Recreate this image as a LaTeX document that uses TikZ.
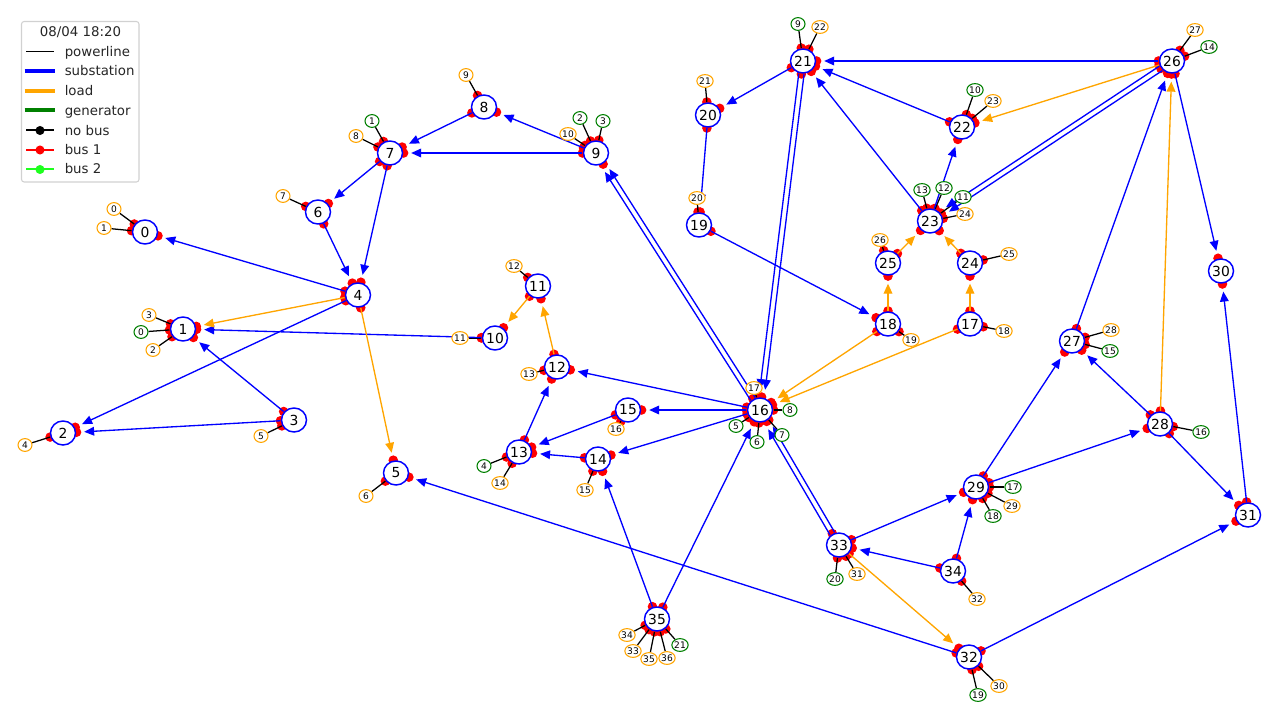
\documentclass[tikz,border=0pt]{standalone}
\usepackage{fontspec}
\setmainfont{DejaVu Sans}
\usetikzlibrary{arrows.meta,calc,shapes.geometric}
\pgfdeclarelayer{dots}\pgfdeclarelayer{edges}
\pgfsetlayers{dots,edges,main}
\definecolor{lblue}{RGB}{0,0,255}
\definecolor{lorange}{RGB}{255,165,0}
\definecolor{lgreen}{RGB}{0,128,0}
\definecolor{lbright}{RGB}{30,255,30}
\tikzset{
  subst/.style={ellipse,draw=lblue,fill=white,line width=1.1pt,minimum width=18.75pt,minimum height=18pt,inner sep=0pt,outer sep=0.8pt,font=\fontsize{10.4}{12}\selectfont},
  elemnode/.style={ellipse,fill=white,line width=0.8pt,minimum width=10.5pt,minimum height=9.6pt,inner sep=0pt,font=\fontsize{6.8}{8}\selectfont},
  loadn/.style={elemnode,draw=lorange},
  genn/.style={elemnode,draw=lgreen},
  flow/.style={line width=1pt,shorten >=5.7pt,-{Triangle[length=7.5pt,width=6.5pt]}},
  elemline/.style={black,line width=0.95pt},
  legtext/.style={anchor=base west,inner sep=0pt,font=\fontsize{10}{12}\selectfont,text=black!85},
}
\newcommand{\busdot}[1]{\fill[red] (#1) circle (3.6pt);}
\newcommand{\sta}[3]{\node[subst] (s#1) at (#2,#3) {#1};}
\newcommand{\elem}[5]{% kind, label, x, y, substation
  \node[#1n] (#1#2) at (#3,#4) {#2};
  \begin{pgfonlayer}{edges}\draw[elemline] (s#5) -- (#1#2) coordinate[pos=0] (tmpe);\end{pgfonlayer}
  \begin{pgfonlayer}{dots}\busdot{tmpe}\end{pgfonlayer}}
\newcommand{\lnk}[3]{% colour, from, to
  \begin{pgfonlayer}{edges}\draw[flow,#1] (s#2) -- (s#3) coordinate[pos=0] (tmpa) coordinate[pos=1] (tmpb);\end{pgfonlayer}
  \begin{pgfonlayer}{dots}\busdot{tmpa}\busdot{tmpb}\end{pgfonlayer}}
\newcommand{\dlnk}[3]{% double line
  \path (s#2) -- (s#3) coordinate[pos=0] (tmpa) coordinate[pos=1] (tmpb);
  \begin{pgfonlayer}{edges}
  \draw[flow,#1] ($(tmpa)!2pt!90:(tmpb)$) -- ($(tmpb)!2pt!-90:(tmpa)$);
  \draw[flow,#1] ($(tmpa)!2pt!-90:(tmpb)$) -- ($(tmpb)!2pt!90:(tmpa)$);
  \end{pgfonlayer}
  \begin{pgfonlayer}{dots}\busdot{tmpa}\busdot{tmpb}\end{pgfonlayer}}
\newcommand{\bluelnk}[2]{\lnk{lblue}{#1}{#2}}
\newcommand{\orangelnk}[2]{\lnk{lorange}{#1}{#2}}
\begin{document}
\begin{tikzpicture}[x=0.75pt,y=-0.75pt]
\useasboundingbox (0,0) rectangle (1280,720);
% substations
\foreach \i/\x/\y in {0/145/232,1/183/329,2/63/433,3/294/420,4/358/295,5/396/473,6/318/212,7/390/153,8/484/107,9/596/153,10/495/338,11/538/286,12/557/367,13/519/452,14/598/459,15/628/410,16/760/410,17/970/324,18/888/324,19/699/225,20/708/115,21/803/61,22/962/127,23/930/221,24/970/263,25/888/263,26/1172/61,27/1072/341,28/1160/424,29/976/487,30/1221/271,31/1248/515,32/969/657,33/839/545,34/953/571,35/657/619}
  {\sta{\i}{\x}{\y}}
% loads
\elem{load}{0}{114}{209}{0}\elem{load}{1}{104}{228}{0}\elem{load}{2}{153}{350}{1}\elem{load}{3}{149}{315}{1}
\elem{load}{4}{25}{445}{2}\elem{load}{5}{261}{436}{3}\elem{load}{6}{366}{496}{5}\elem{load}{7}{283}{196}{6}
\elem{load}{8}{356}{136}{7}\elem{load}{9}{466}{75}{8}\elem{load}{10}{568}{134}{9}\elem{load}{11}{460}{338}{10}
\elem{load}{12}{514}{266}{11}\elem{load}{13}{529}{374}{12}\elem{load}{14}{500}{483}{13}\elem{load}{15}{585}{490}{14}
\elem{load}{16}{616}{429}{15}\elem{load}{17}{754}{388}{16}\elem{load}{18}{1004}{331}{17}\elem{load}{19}{911}{340}{18}
\elem{load}{20}{697}{198}{19}\elem{load}{21}{705}{81}{20}\elem{load}{22}{820}{27}{21}\elem{load}{23}{993}{101}{22}
\elem{load}{24}{965}{214}{23}\elem{load}{25}{1009}{254}{24}\elem{load}{26}{880}{240}{25}\elem{load}{27}{1195}{30}{26}
\elem{load}{28}{1111}{330}{27}\elem{load}{29}{1012}{506}{29}\elem{load}{30}{999}{686}{32}\elem{load}{31}{857}{574}{33}
\elem{load}{32}{977}{599}{34}\elem{load}{33}{633}{651}{35}\elem{load}{34}{627}{635}{35}\elem{load}{35}{649}{659}{35}
\elem{load}{36}{667}{658}{35}
% generators
\elem{gen}{0}{141}{332}{1}\elem{gen}{1}{372}{121}{7}\elem{gen}{2}{580}{118}{9}\elem{gen}{3}{603}{121}{9}
\elem{gen}{4}{484}{466}{13}\elem{gen}{5}{736}{426}{16}\elem{gen}{6}{757}{442}{16}\elem{gen}{7}{782}{435}{16}
\elem{gen}{8}{790}{410}{16}\elem{gen}{9}{798}{24}{21}\elem{gen}{10}{975}{90}{22}\elem{gen}{11}{963}{197}{23}
\elem{gen}{12}{944}{188}{23}\elem{gen}{13}{922}{190}{23}\elem{gen}{14}{1209}{47}{26}\elem{gen}{15}{1110}{351}{27}
\elem{gen}{16}{1201}{432}{28}\elem{gen}{17}{1013}{487}{29}\elem{gen}{18}{993}{516}{29}\elem{gen}{19}{978}{695}{32}
\elem{gen}{20}{835}{579}{33}\elem{gen}{21}{680}{645}{35}
% lines
\bluelnk{4}{0}\bluelnk{10}{1}\bluelnk{3}{1}\bluelnk{3}{2}\bluelnk{4}{2}\bluelnk{6}{4}\bluelnk{7}{4}\bluelnk{7}{6}
\bluelnk{8}{7}\bluelnk{9}{7}\bluelnk{9}{8}\bluelnk{13}{12}\bluelnk{15}{13}\bluelnk{14}{13}\bluelnk{16}{12}\bluelnk{16}{15}
\bluelnk{16}{14}\bluelnk{35}{16}\bluelnk{35}{14}\bluelnk{32}{5}\bluelnk{32}{31}\bluelnk{33}{29}\bluelnk{34}{33}\bluelnk{34}{29}
\bluelnk{29}{27}\bluelnk{29}{28}\bluelnk{28}{27}\bluelnk{28}{31}\bluelnk{31}{30}\bluelnk{26}{30}\bluelnk{27}{26}\bluelnk{26}{21}
\bluelnk{22}{21}\bluelnk{23}{21}\bluelnk{23}{22}\bluelnk{21}{20}\bluelnk{20}{19}\bluelnk{19}{18}
\orangelnk{4}{1}\orangelnk{4}{5}\orangelnk{11}{10}\orangelnk{12}{11}\orangelnk{33}{32}\orangelnk{28}{26}\orangelnk{26}{22}
\orangelnk{25}{23}\orangelnk{24}{23}\orangelnk{18}{25}\orangelnk{17}{24}\orangelnk{18}{16}\orangelnk{17}{16}
\dlnk{lblue}{16}{9}\dlnk{lblue}{21}{16}\dlnk{lblue}{33}{16}\dlnk{lblue}{26}{23}
% legend
\draw[black!18,fill=white,rounded corners=2pt,line width=0.8pt] (21.5,21.5) rectangle (139,182);
\node[anchor=center,inner sep=0pt,font=\fontsize{10}{12}\selectfont,text=black!85] (legtitle) at (80.5,32) {08/04 18:20};
\foreach \n/\t/\y in {a/powerline/57,b/substation/76,c/load/96,d/generator/116,e/no bus/136,f/bus 1/155,g/bus 2/174}
  {\node[legtext] (leg\n) at (64.5,\y) {\t};}
\foreach \n/\y in {a/51.5,b/71,c/91,d/110.5,e/130.5,f/150,g/169.5}
  {\coordinate (la\n) at (26,\y); \coordinate (lb\n) at (54,\y);}
\draw[black,line width=0.8pt] (laa) -- (lba);
\draw[lblue,line width=3pt] ($(lab)+(-1.5,0)$) -- ($(lbb)+(1,0)$);
\draw[lorange,line width=3pt] ($(lac)+(-1.5,0)$) -- ($(lbc)+(1,0)$);
\draw[lgreen,line width=3pt] ($(lad)+(-1.5,0)$) -- ($(lbd)+(1,0)$);
\draw[black,line width=1.5pt] (lae) -- (lbe); \fill[black] ($(lae)!.5!(lbe)$) circle (3.4pt);
\draw[red,line width=1.5pt] (laf) -- (lbf); \fill[red] ($(laf)!.5!(lbf)$) circle (3.4pt);
\draw[lbright,line width=1.5pt] (lag) -- (lbg); \fill[lbright] ($(lag)!.5!(lbg)$) circle (3.4pt);
\end{tikzpicture}
\end{document}
